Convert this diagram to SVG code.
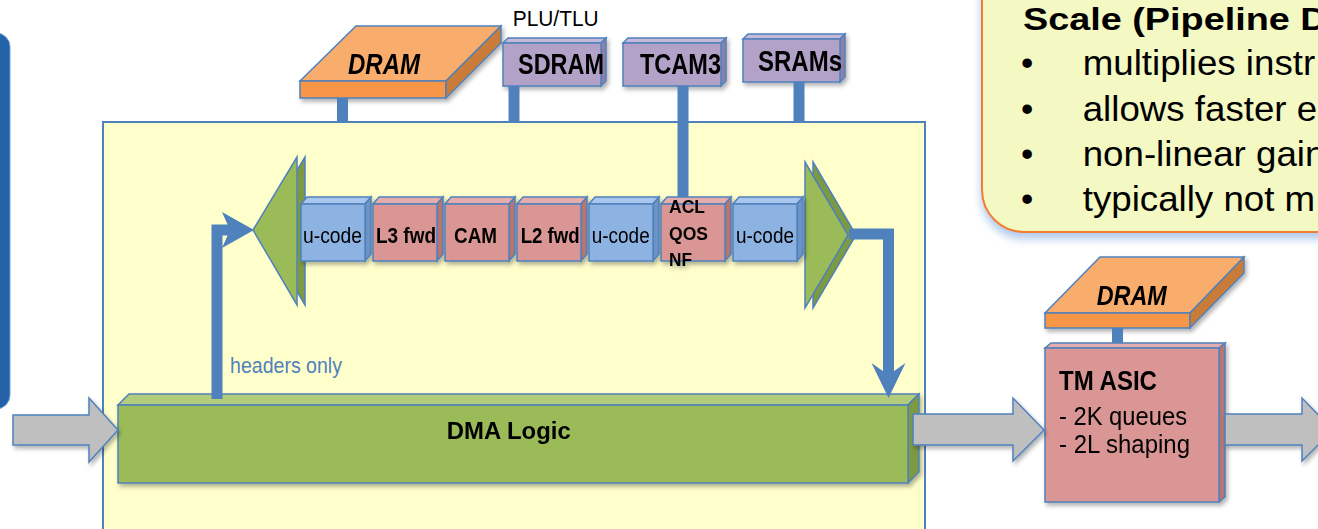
<svg xmlns="http://www.w3.org/2000/svg" width="1318" height="529" viewBox="0 0 1318 529">
  <defs>
    <filter id="shadow" x="-10%" y="-10%" width="130%" height="140%">
      <feDropShadow dx="2" dy="3" stdDeviation="2" flood-color="#000" flood-opacity="0.3"/>
    </filter>
    <filter id="callShadow" x="-10%" y="-10%" width="130%" height="140%">
      <feDropShadow dx="0" dy="6" stdDeviation="4" flood-color="#8db3e2" flood-opacity="0.7"/>
    </filter>
  </defs>
  <style>
    .t { font-family: "Liberation Sans", Arial, sans-serif; fill: #000; }
    .b { font-weight: bold; }
    .i { font-style: italic; }
    .edge { stroke: #4f81bd; stroke-width: 1.5; stroke-linejoin: miter; }
    .bf { fill: #8db3e2; } .bt { fill: #a9c6ec; } .bs { fill: #6c93c4; }
    .rf { fill: #d99694; } .rt { fill: #e4acaa; } .rs { fill: #b67573; }
    .pf { fill: #b2a2c7; } .pt { fill: #c5b8d8; } .ps { fill: #8f7fa7; }
    .of { fill: #f79646; } .ot { fill: #f9ad6c; } .os { fill: #c97b37; }
    .gf { fill: #9bbb59; } .gt { fill: #b2cc7c; } .gs { fill: #7d9a42; }
    .stub { stroke: #4f81bd; stroke-width: 11; fill: none; }
    .gray { fill: #bfbfbf; stroke: #4f81bd; stroke-width: 1.5; }
  </style>

  <!-- background -->
  <rect x="0" y="0" width="1318" height="529" fill="#ffffff"/>

  <!-- partial panel on the left edge -->
  <g id="left-panel">
    <rect x="-40" y="33" width="50" height="376" rx="14" fill="#2462a7" stroke="#6f9fd8" stroke-width="1"/>
  </g>

  <!-- callout box (top right) -->
  <g id="callout">
    <rect x="982" y="-60" width="400" height="292" rx="42" fill="#f4f8c2" stroke="#f07f2f" stroke-width="2" filter="url(#callShadow)"/>
    <text class="t b" x="1023" y="29.5" font-size="31" textLength="304.6" lengthAdjust="spacingAndGlyphs">Scale (Pipeline D</text>
    <text class="t" x="1021" y="74.5" font-size="35">•</text>
    <text class="t" x="1082.7" y="74.5" font-size="35" textLength="232.5" lengthAdjust="spacingAndGlyphs">multiplies instr</text>
    <text class="t" x="1021" y="120.5" font-size="35">•</text>
    <text class="t" x="1082.7" y="120.5" font-size="35" textLength="234.5" lengthAdjust="spacingAndGlyphs">allows faster e</text>
    <text class="t" x="1021" y="165.5" font-size="35">•</text>
    <text class="t" x="1082.7" y="165.5" font-size="35" textLength="242.7" lengthAdjust="spacingAndGlyphs">non-linear gain</text>
    <text class="t" x="1021" y="210.5" font-size="35">•</text>
    <text class="t" x="1082.7" y="210.5" font-size="35" textLength="232.5" lengthAdjust="spacingAndGlyphs">typically not m</text>
  </g>

  <!-- line card outline -->
  <g id="linecard">
    <rect x="103" y="122" width="822" height="430" fill="#ffffcc" stroke="#4f81bd" stroke-width="2"/>
    <text class="t" x="230" y="373" font-size="22" fill="#4f81bd" style="fill:#4f81bd" textLength="112" lengthAdjust="spacingAndGlyphs">headers only</text>
  </g>

  <!-- memories above the card -->
  <g id="dram-top" filter="url(#shadow)">
    <polygon class="ot edge" points="300,81 356,26 501,26 446,81"/>
    <rect class="of edge" x="300" y="81" width="146" height="17"/>
    <polygon class="os edge" points="446,81 501,26 501,43 446,98"/>
    <text class="t b i" x="348" y="74" font-size="29" textLength="72" lengthAdjust="spacingAndGlyphs">DRAM</text>
  </g>

  <text id="plu-tlu" class="t" x="512.7" y="25.7" font-size="22" textLength="86" lengthAdjust="spacingAndGlyphs">PLU/TLU</text>

  <g id="sdram" filter="url(#shadow)">
    <polygon class="pt edge" points="503,43 508,38 606,38 601,43"/>
    <polygon class="ps edge" points="601,43 606,38 606,81 601,86"/>
    <rect class="pf edge" x="503" y="43" width="98" height="43"/>
    <text class="t b" x="518" y="74" font-size="29" textLength="86" lengthAdjust="spacingAndGlyphs">SDRAM</text>
  </g>

  <g id="tcam3" filter="url(#shadow)">
    <polygon class="pt edge" points="623,43 628,38 726,38 721,43"/>
    <polygon class="ps edge" points="721,43 726,38 726,81 721,86"/>
    <rect class="pf edge" x="623" y="43" width="98" height="43"/>
    <text class="t b" x="640" y="74" font-size="29" textLength="81" lengthAdjust="spacingAndGlyphs">TCAM3</text>
  </g>

  <g id="srams" filter="url(#shadow)">
    <polygon class="pt edge" points="743,39 748,34 845,34 840,39"/>
    <polygon class="ps edge" points="840,39 845,34 845,77 840,82"/>
    <rect class="pf edge" x="743" y="39" width="97" height="43"/>
    <text class="t b" x="758" y="71" font-size="29" textLength="84" lengthAdjust="spacingAndGlyphs">SRAMs</text>
  </g>

  <!-- pipeline entry / exit wedges -->
  <g id="wedge-in">
    <polygon class="gs edge" points="261,230 305,157 305,305"/>
    <polygon class="gf edge" points="253,230 297,157 297,305"/>
  </g>
  <g id="wedge-out">
    <polygon class="gs edge" points="813,162 856,235 813,308"/>
    <polygon class="gf edge" points="805,162 848,235 805,308"/>
  </g>

  <!-- pipeline stages -->
  <g id="stage-ucode-1" filter="url(#shadow)">
    <polygon class="bt edge" points="301,204 307,197 371,197 365,204"/>
    <polygon class="bs edge" points="365,204 371,197 371,254 365,261"/>
    <rect class="bf edge" x="301" y="204" width="64" height="57"/>
    <text class="t" x="303" y="243" font-size="22" textLength="59" lengthAdjust="spacingAndGlyphs">u-code</text>
  </g>
  <g id="stage-l3fwd" filter="url(#shadow)">
    <polygon class="rt edge" points="373,204 379,197 443,197 437,204"/>
    <polygon class="rs edge" points="437,204 443,197 443,254 437,261"/>
    <rect class="rf edge" x="373" y="204" width="64" height="57"/>
    <text class="t b" x="376" y="243" font-size="22" textLength="60" lengthAdjust="spacingAndGlyphs">L3 fwd</text>
  </g>
  <g id="stage-cam" filter="url(#shadow)">
    <polygon class="rt edge" points="445,204 451,197 515,197 509,204"/>
    <polygon class="rs edge" points="509,204 515,197 515,254 509,261"/>
    <rect class="rf edge" x="445" y="204" width="64" height="57"/>
    <text class="t b" x="454" y="242.5" font-size="22" textLength="43" lengthAdjust="spacingAndGlyphs">CAM</text>
  </g>
  <g id="stage-l2fwd" filter="url(#shadow)">
    <polygon class="rt edge" points="517,204 523,197 587,197 581,204"/>
    <polygon class="rs edge" points="581,204 587,197 587,254 581,261"/>
    <rect class="rf edge" x="517" y="204" width="64" height="57"/>
    <text class="t b" x="520.7" y="243" font-size="22" textLength="59" lengthAdjust="spacingAndGlyphs">L2 fwd</text>
  </g>
  <g id="stage-ucode-2" filter="url(#shadow)">
    <polygon class="bt edge" points="589,204 595,197 659,197 653,204"/>
    <polygon class="bs edge" points="653,204 659,197 659,254 653,261"/>
    <rect class="bf edge" x="589" y="204" width="64" height="57"/>
    <text class="t" x="591.7" y="243" font-size="22" textLength="58" lengthAdjust="spacingAndGlyphs">u-code</text>
  </g>
  <g id="stage-acl" filter="url(#shadow)">
    <polygon class="rt edge" points="661,204 667,197 731,197 725,204"/>
    <polygon class="rs edge" points="725,204 731,197 731,254 725,261"/>
    <rect class="rf edge" x="661" y="204" width="64" height="57"/>
    <text class="t b" x="669" y="213.3" font-size="18" textLength="36" lengthAdjust="spacingAndGlyphs">ACL</text>
    <text class="t b" x="669" y="240" font-size="18" textLength="39" lengthAdjust="spacingAndGlyphs">QOS</text>
    <text class="t b" x="669" y="266" font-size="18" textLength="23" lengthAdjust="spacingAndGlyphs">NF</text>
  </g>
  <g id="stage-ucode-3" filter="url(#shadow)">
    <polygon class="bt edge" points="733,204 739,197 803,197 797,204"/>
    <polygon class="bs edge" points="797,204 803,197 803,254 797,261"/>
    <rect class="bf edge" x="733" y="204" width="64" height="57"/>
    <text class="t" x="736" y="243.3" font-size="22" textLength="58" lengthAdjust="spacingAndGlyphs">u-code</text>
  </g>

  <!-- DMA bar -->
  <g id="dma" filter="url(#shadow)">
    <polygon class="gt edge" points="118,405 129,394 919,394 908,405"/>
    <polygon class="gs edge" points="908,405 919,394 919,472 908,483"/>
    <rect class="gf edge" x="118" y="405" width="790" height="78"/>
    <text class="t b" x="446.7" y="439.3" font-size="24" textLength="124" lengthAdjust="spacingAndGlyphs">DMA Logic</text>
  </g>

  <!-- traffic manager and its memory -->
  <g id="dram-tm" filter="url(#shadow)">
    <polygon class="ot edge" points="1045,313 1100,257 1244,257 1190,313"/>
    <rect class="of edge" x="1045" y="313" width="145" height="15"/>
    <polygon class="os edge" points="1190,313 1244,257 1244,273 1190,328"/>
    <text class="t b i" x="1096.7" y="305" font-size="28" textLength="70" lengthAdjust="spacingAndGlyphs">DRAM</text>
  </g>
  <g id="tm-asic" filter="url(#shadow)">
    <polygon class="rt edge" points="1045,348 1051,343 1225,343 1219,348"/>
    <polygon class="rs edge" points="1219,348 1225,343 1225,497 1219,502"/>
    <rect class="rf edge" x="1045" y="348" width="174" height="154"/>
    <text class="t b" x="1059" y="390" font-size="27" textLength="98" lengthAdjust="spacingAndGlyphs">TM ASIC</text>
    <text class="t" x="1059" y="425" font-size="25.5" textLength="128" lengthAdjust="spacingAndGlyphs">- 2K queues</text>
    <text class="t" x="1059" y="452.7" font-size="25.5" textLength="131" lengthAdjust="spacingAndGlyphs">- 2L shaping</text>
  </g>

  <!-- connectors -->
  <g id="connectors">
    <!-- memory taps -->
    <line class="stub" x1="342.5" y1="98" x2="342.5" y2="122"/>
    <line class="stub" x1="514" y1="86" x2="514" y2="122"/>
    <line class="stub" x1="683" y1="86" x2="683" y2="197"/>
    <line class="stub" x1="799" y1="82" x2="799" y2="122"/>
    <line class="stub" x1="1117.5" y1="328" x2="1117.5" y2="343"/>

    <!-- headers up into the pipeline -->
    <path class="stub" d="M217,399 V230 H234"/>
    <polygon fill="#4f81bd" points="222,212 254,230 222,248 230,230"/>

    <!-- results back down to DMA -->
    <path class="stub" d="M849,234 H888.5 V376"/>
    <polygon fill="#4f81bd" points="871.5,363 888.5,375 905.5,363 888.5,398"/>

    <!-- packet flow -->
    <polygon class="gray" filter="url(#shadow)" points="13,415 89,415 89,398 118,430 89,462 89,445 13,445"/>
    <polygon class="gray" filter="url(#shadow)" points="913,414 1013,414 1013,398 1044,430 1013,461 1013,445 913,445"/>
    <polygon class="gray" filter="url(#shadow)" points="1225,414 1302,414 1302,398 1333,430 1302,461 1302,445 1225,445"/>
  </g>
</svg>
